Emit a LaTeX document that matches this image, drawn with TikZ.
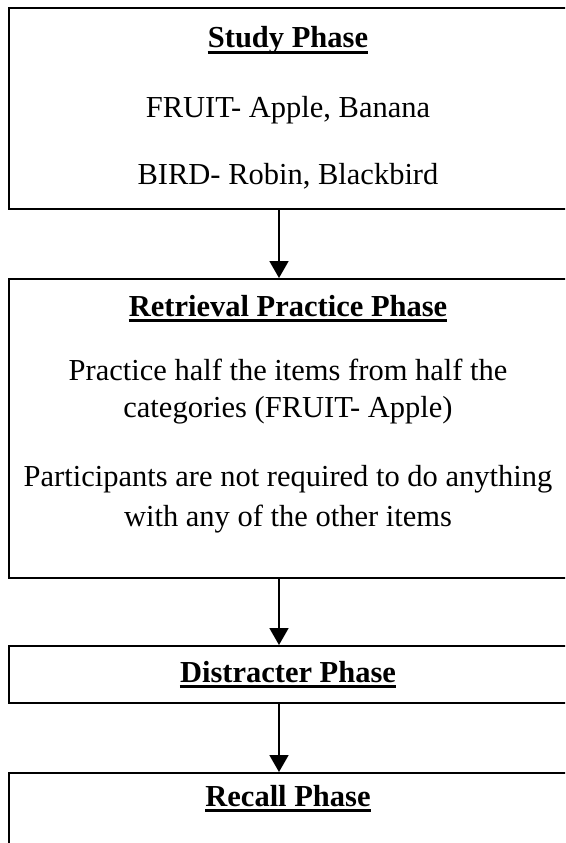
\documentclass[tikz,border=0pt]{standalone}
\usepackage{fontspec}
\setmainfont{Liberation Serif}
\usetikzlibrary{arrows.meta}
\begin{document}
\begin{tikzpicture}[x=1pt,y=-1pt,
  phasebox/.style={draw=black,line width=1.8pt,inner sep=0pt,anchor=north west,minimum width=560pt},
  phasetitle/.style={font=\fontsize{30.5}{36}\selectfont\bfseries,inner sep=0pt,anchor=base},
  phasetext/.style={font=\fontsize{30.5}{36}\selectfont,inner sep=0pt,anchor=base},
  flow/.style={line width=1.8pt,-{Triangle[width=19pt,length=17pt]}},
  uline/.style={line width=2.4pt}]
\useasboundingbox (0,0) rectangle (565,843);
\fill[white] (0,0) rectangle (565,843);
\clip (0,0) rectangle (565,843);

% phase boxes (right edges run past the page)
\node[phasebox,minimum height=201pt] (study) at (8,7) {};
\node[phasebox,minimum height=299pt] (retr) at (8,278) {};
\node[phasebox,minimum height=57pt] (dist) at (8,645) {};
\node[phasebox,minimum height=110pt] (recall) at (8,772) {};

% texts
\node[phasetitle] (studyT) at (288,48) {Study Phase};
\node[phasetext] (studyA) at (288,117) {FRUIT- Apple, Banana};
\node[phasetext] (studyB) at (288,184) {BIRD- Robin, Blackbird};

\node[phasetitle] (retrT) at (288,316) {Retrieval Practice Phase};
\node[phasetext] (retrA) at (288,380) {Practice half the items from half the};
\node[phasetext] (retrB) at (288,417) {categories (FRUIT- Apple)};
\node[phasetext] (retrC) at (288,486) {Participants are not required to do anything};
\node[phasetext] (retrD) at (288,526) {with any of the other items};

\node[phasetitle] (distT) at (288,682) {Distracter Phase};
\node[phasetitle] (recallT) at (288,806) {Recall Phase};

% underlines of the titles
\foreach \t in {studyT,retrT,distT,recallT}
  \draw[uline] ([yshift=-4.5pt]\t.base west) -- ([yshift=-4.5pt]\t.base east);

% connectors
\coordinate (ax) at (279,0);
\draw[flow] (study.south -| ax) -- (retr.north -| ax);
\draw[flow] (retr.south -| ax) -- (dist.north -| ax);
\draw[flow] (dist.south -| ax) -- (recall.north -| ax);
\end{tikzpicture}
\end{document}
